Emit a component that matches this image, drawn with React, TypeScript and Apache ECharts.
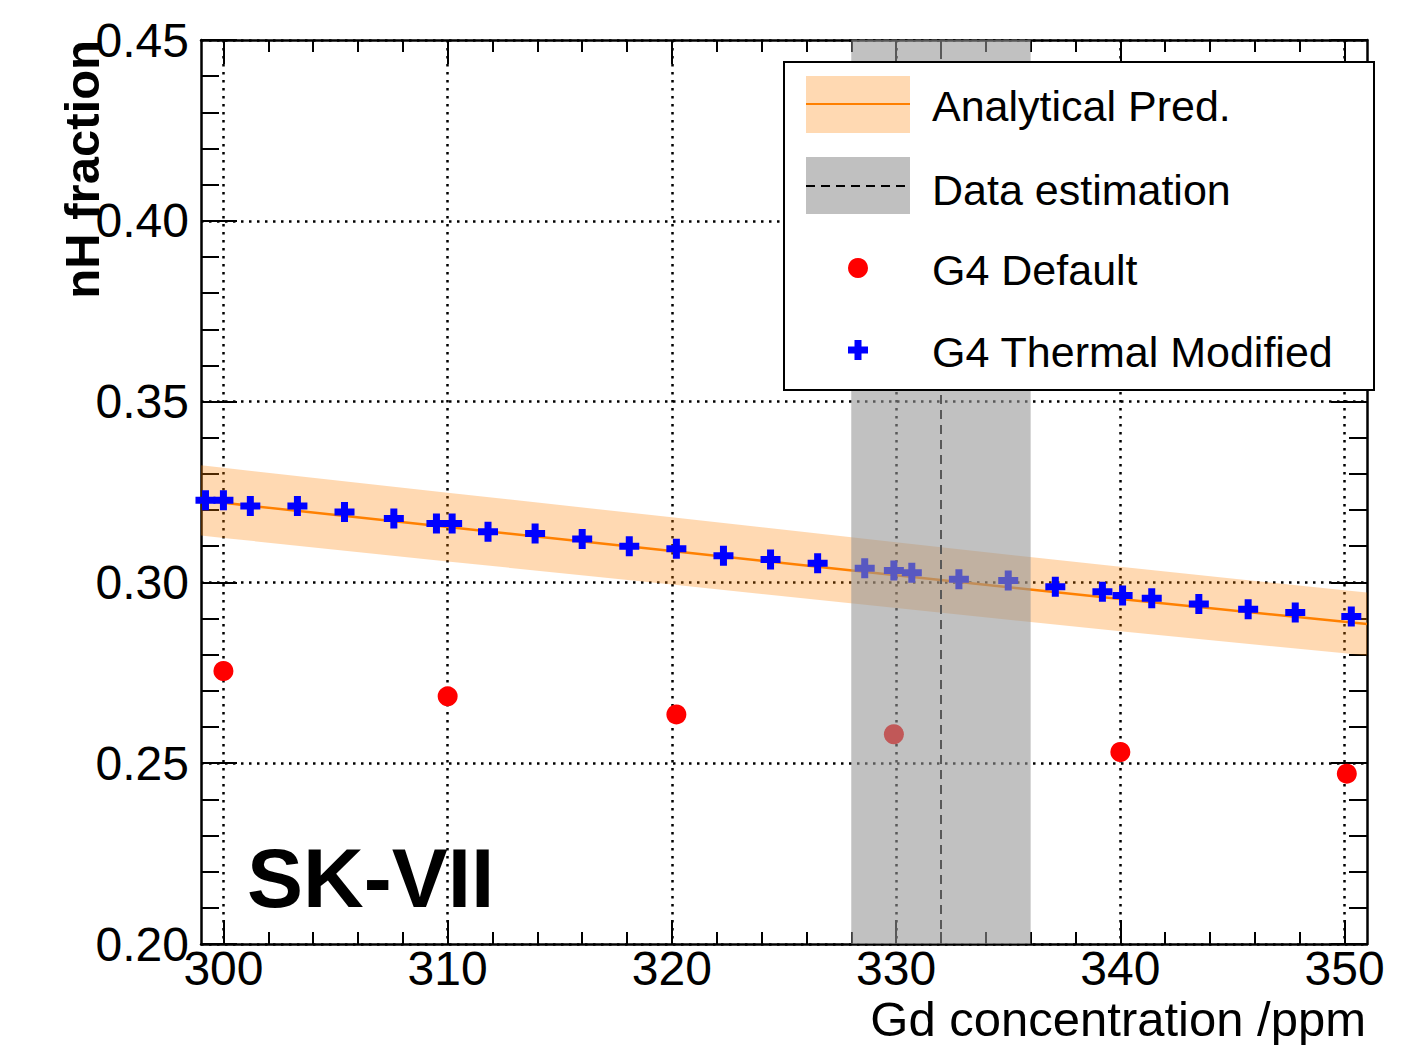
import React, { useEffect, useRef } from 'react';
import * as echarts from 'echarts';

// Analytical prediction (central value and ±band)
const anaX = [299, 300, 310, 320, 330, 340, 350, 351];
const anaCenter = [0.3227, 0.322, 0.3153, 0.3087, 0.302, 0.2954, 0.2891, 0.2885];
const anaUpper = [0.3324, 0.3317, 0.3248, 0.318, 0.3111, 0.3043, 0.2978, 0.2972];
const anaLower = [0.313, 0.3123, 0.3058, 0.2994, 0.2929, 0.2865, 0.2804, 0.2798];

// Data estimation (Gd concentration)
const dataEstCenter = 332;
const dataEstLow = 328;
const dataEstHigh = 336;

// G4 Default
const g4DefaultX = [300, 310, 320.2, 329.9, 340, 350.1];
const g4DefaultY = [0.2755, 0.2685, 0.2635, 0.258, 0.2531, 0.2471];

// G4 Thermal Modified
const g4ThermalX = [299.2, 300, 301.2, 303.3, 305.4, 307.6, 309.5, 310.2, 311.8, 313.9, 316.0, 318.1, 320.2, 322.3, 324.4, 326.5, 328.6, 329.9, 330.7, 332.8, 335.0, 337.1, 339.2, 340.1, 341.4, 343.5, 345.7, 347.8, 350.3];
const g4ThermalY = [0.3227, 0.3227, 0.3211, 0.3211, 0.3195, 0.3177, 0.3163, 0.3163, 0.314, 0.3135, 0.312, 0.31, 0.3093, 0.3074, 0.3063, 0.3053, 0.3039, 0.3033, 0.3027, 0.3009, 0.3005, 0.2988, 0.2974, 0.2964, 0.2956, 0.294, 0.2926, 0.2917, 0.2906];

// Axes
const xMin = 299;
const xMax = 351;
const xMajorTicks = [300, 310, 320, 330, 340, 350];
const xMinorTicks = [300, 302, 304, 306, 308, 310, 312, 314, 316, 318, 320, 322, 324, 326, 328, 330, 332, 334, 336, 338, 340, 342, 344, 346, 348, 350];
const yMin = 0.2;
const yMax = 0.45;
const yInterval = 0.05;

const FONT = '"Liberation Sans", Arial, Helvetica, sans-serif';
const PLUS = 'path://M6.5,0h7v6.5h6.5v7h-6.5v6.5h-7v-6.5h-6.5v-7h6.5z';

export default function App() {
  const ref = useRef<HTMLDivElement>(null);

  useEffect(() => {
    if (!ref.current) return;
    const chart = echarts.init(ref.current, null, { renderer: 'svg' });

    const axisLine = { show: true, onZero: false, lineStyle: { color: '#000', width: 2.5 } };
    const tickLine = { color: '#000', width: 2 };
    const dotted = { color: '#000', width: 2.5, type: [2.5, 5.5] as any };

    const xCommon = { type: 'value', min: xMin, max: xMax, gridIndex: 0 };
    const yCommon = { type: 'value', min: yMin, max: yMax, interval: yInterval, gridIndex: 0 };

    const option: any = {
      animation: false,
      backgroundColor: '#fff',
      grid: { left: 201, top: 40, width: 1166, height: 904, containLabel: false },
      xAxis: [
        {
          ...xCommon,
          position: 'bottom',
          axisLine,
          axisTick: { show: true, inside: true, length: 24, customValues: xMajorTicks, lineStyle: tickLine },
          axisLabel: { show: true, customValues: xMajorTicks, fontSize: 48, color: '#000', fontFamily: FONT, margin: 0 },
          splitLine: { show: true, lineStyle: dotted },
        },
        {
          ...xCommon,
          position: 'bottom',
          axisLine: { show: false },
          axisTick: { show: true, inside: true, length: 12, customValues: xMinorTicks, lineStyle: tickLine },
          axisLabel: { show: false },
          splitLine: { show: false },
        },
        {
          ...xCommon,
          position: 'top',
          axisLine,
          axisTick: { show: true, inside: true, length: 24, customValues: xMajorTicks, lineStyle: tickLine },
          axisLabel: { show: false },
          splitLine: { show: false },
        },
        {
          ...xCommon,
          position: 'top',
          axisLine: { show: false },
          axisTick: { show: true, inside: true, length: 12, customValues: xMinorTicks, lineStyle: tickLine },
          axisLabel: { show: false },
          splitLine: { show: false },
        },
      ],
      yAxis: [
        {
          ...yCommon,
          position: 'left',
          axisLine,
          axisTick: { show: true, inside: true, length: 36, lineStyle: tickLine },
          minorTick: { show: true, splitNumber: 5, length: 18, lineStyle: tickLine },
          axisLabel: {
            show: true,
            fontSize: 48,
            color: '#000',
            fontFamily: FONT,
            margin: 12,
            formatter: (v: number) => v.toFixed(2),
          },
          splitLine: { show: true, lineStyle: dotted },
        },
        {
          ...yCommon,
          position: 'right',
          axisLine,
          axisTick: { show: true, inside: true, length: 36, lineStyle: tickLine },
          minorTick: { show: true, splitNumber: 5, length: 18, lineStyle: tickLine },
          axisLabel: { show: false },
          splitLine: { show: false },
        },
      ],
      series: [
        {
          type: 'custom',
          name: 'Analytical band',
          z: 1,
          silent: true,
          data: [[anaX[0], anaCenter[0]]],
          renderItem: (params: any, api: any) => {
            const pts: number[][] = [];
            for (let i = 0; i < anaX.length; i++) pts.push(api.coord([anaX[i], anaUpper[i]]));
            for (let i = anaX.length - 1; i >= 0; i--) pts.push(api.coord([anaX[i], anaLower[i]]));
            return { type: 'polygon', shape: { points: pts }, style: { fill: 'rgba(255,128,0,0.3)' } };
          },
        },
        {
          type: 'line',
          name: 'Analytical Pred.',
          z: 2,
          data: anaX.map((x, i) => [x, anaCenter[i]]),
          symbol: 'none',
          lineStyle: { color: '#ff8000', width: 2.5 },
        },
        {
          type: 'scatter',
          name: 'G4 Default',
          z: 3,
          data: g4DefaultX.map((x, i) => [x, g4DefaultY[i]]),
          symbol: 'circle',
          symbolSize: 20,
          itemStyle: { color: '#ff0000', opacity: 1 },
        },
        {
          type: 'scatter',
          name: 'G4 Thermal Modified',
          z: 3,
          data: g4ThermalX.map((x, i) => [x, g4ThermalY[i]]),
          symbol: PLUS,
          symbolSize: 20,
          itemStyle: { color: '#0000ff', opacity: 1 },
        },
        {
          type: 'line',
          name: 'Data estimation line',
          z: 4,
          data: [],
          markLine: {
            z: 4,
            silent: true,
            symbol: 'none',
            label: { show: false },
            lineStyle: { color: '#000', width: 2, type: [9, 6] },
            data: [{ xAxis: dataEstCenter }],
          },
        },
        {
          type: 'line',
          name: 'Data estimation band',
          z: 10,
          data: [],
          markArea: {
            z: 10,
            silent: true,
            itemStyle: { color: 'rgba(149,149,149,0.59)' },
            data: [[{ xAxis: dataEstLow }, { xAxis: dataEstHigh }]],
          },
        },
      ],
      graphic: [
        // legend box
        { type: 'rect', z: 100, shape: { x: 784, y: 62, width: 590, height: 328 }, style: { fill: '#fff', stroke: '#000', lineWidth: 2 } },
        { type: 'rect', z: 101, shape: { x: 806, y: 76, width: 104, height: 57 }, style: { fill: 'rgba(255,128,0,0.3)' } },
        { type: 'line', z: 102, shape: { x1: 806, y1: 104, x2: 910, y2: 104 }, style: { stroke: '#ff8000', lineWidth: 2 } },
        { type: 'rect', z: 101, shape: { x: 806, y: 157, width: 104, height: 57 }, style: { fill: '#c0c0c0' } },
        { type: 'line', z: 102, shape: { x1: 806, y1: 186, x2: 910, y2: 186 }, style: { stroke: '#000', lineWidth: 2, lineDash: [9, 6] } },
        { type: 'circle', z: 102, shape: { cx: 858, cy: 268, r: 10 }, style: { fill: '#ff0000' } },
        {
          type: 'polygon',
          z: 102,
          shape: {
            points: [
              [854.5, 340], [861.5, 340], [861.5, 346.5], [868, 346.5], [868, 353.5], [861.5, 353.5],
              [861.5, 360], [854.5, 360], [854.5, 353.5], [848, 353.5], [848, 346.5], [854.5, 346.5],
            ],
          },
          style: { fill: '#0000ff' },
        },
        { type: 'text', z: 102, x: 932, y: 106, style: { text: 'Analytical Pred.', fontSize: 43, fontFamily: FONT, fill: '#000', align: 'left', verticalAlign: 'middle' } },
        { type: 'text', z: 102, x: 932, y: 190, style: { text: 'Data estimation', fontSize: 43, fontFamily: FONT, fill: '#000', align: 'left', verticalAlign: 'middle' } },
        { type: 'text', z: 102, x: 932, y: 270, style: { text: 'G4 Default', fontSize: 43, fontFamily: FONT, fill: '#000', align: 'left', verticalAlign: 'middle' } },
        { type: 'text', z: 102, x: 932, y: 352, style: { text: 'G4 Thermal Modified', fontSize: 43, fontFamily: FONT, fill: '#000', align: 'left', verticalAlign: 'middle' } },
        // axis titles
        { type: 'text', z: 50, x: 1366, y: 1019, style: { text: 'Gd concentration /ppm', fontSize: 49, fontFamily: FONT, fill: '#000', align: 'right', verticalAlign: 'middle' } },
        { type: 'text', z: 50, x: 82, y: 40, rotation: Math.PI / 2, style: { text: 'nH fraction', fontSize: 49, fontWeight: 'bold', fontFamily: FONT, fill: '#000', align: 'right', verticalAlign: 'middle' } },
        // label
        { type: 'text', z: 50, x: 247, y: 878, style: { text: 'SK-VII', fontSize: 84, fontWeight: 'bold', fontFamily: FONT, fill: '#000', align: 'left', verticalAlign: 'middle' } },
      ],
    };

    chart.setOption(option);
    return () => chart.dispose();
  }, []);

  return <div ref={ref} style={{ position: 'fixed', left: 0, top: 0, width: 1421, height: 1045, background: '#fff' }} />;
}
